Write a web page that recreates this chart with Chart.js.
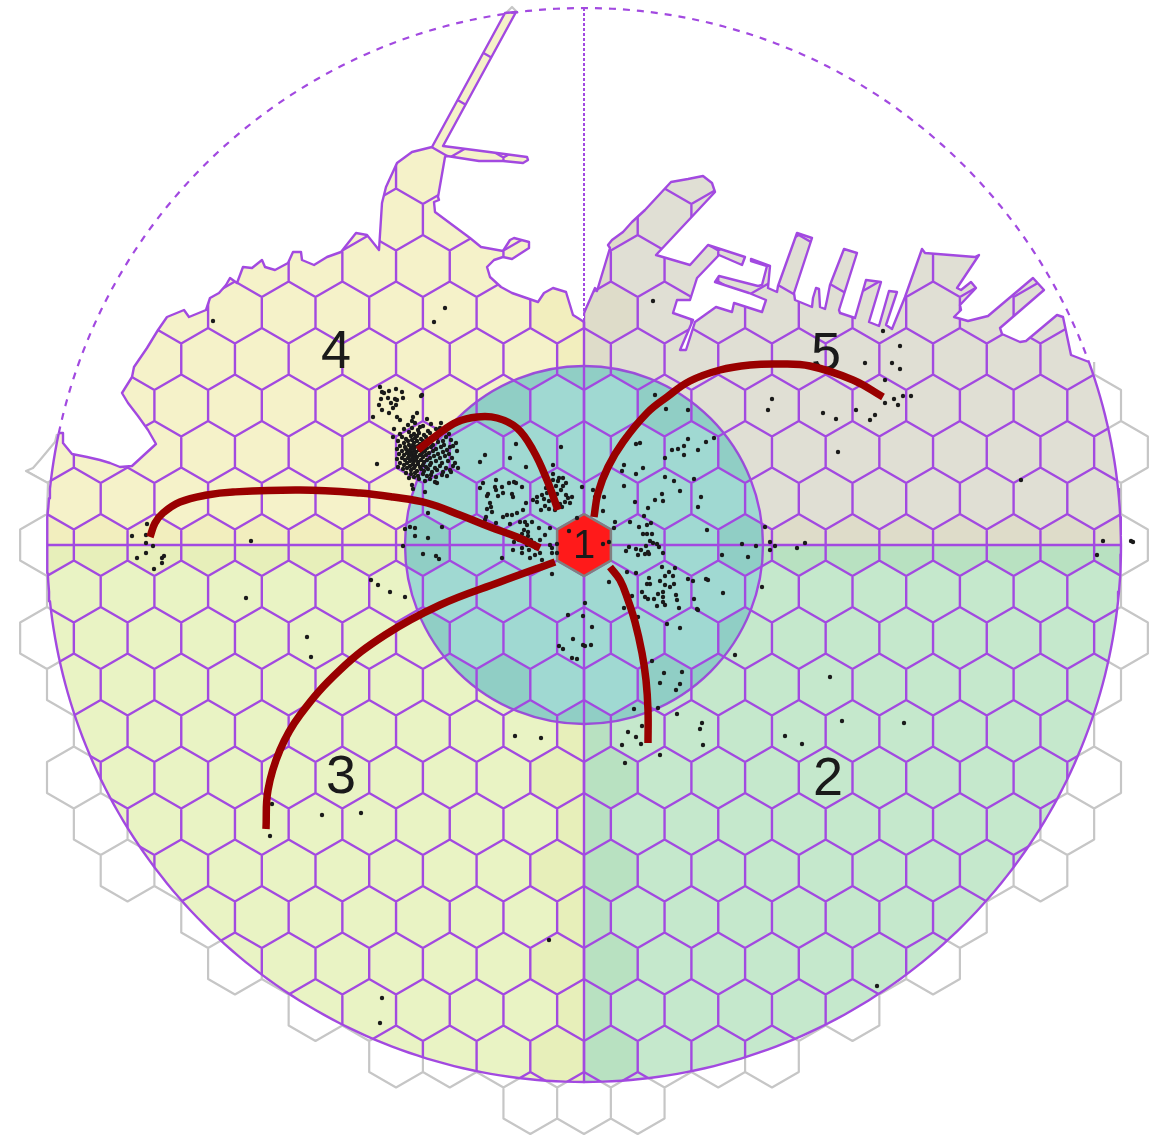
<!DOCTYPE html>
<html>
<head>
<meta charset="utf-8">
<title>Hex catchment map</title>
<style>
    html, body { margin: 0; padding: 0; background: #fff; overflow: hidden; }
    canvas { display: block; }
</style>
<script src="https://cdn.jsdelivr.net/npm/chart.js@4/dist/chart.umd.min.js"></script>
</head>
<body>
<canvas id="map" width="1164" height="1138"></canvas>
<script>
// ── Grid ───────────────────────────────────────────
const HUB = [584, 545];
const R_OUTER = 537;
const R_INNER = 179;
const HEX_W = 53.7;
const ROW_H = 46.5;
const HEX_SIDE = 31;
// how many cell widths each row reaches from the middle, index = rows away from hub
const rowReach = [10, 9.5, 10, 9.5, 9, 9.5, 9, 8.5, 7, 6.5, 5, 3.5, 1];

// cells cut by the inner circle [row, col]
const ringCells = [
    [0, -3], [0, 3], [-2, 3], [2, 3], [2, -3], [-3, 1.5], [-3, -1.5], [3, 1.5], [3, -1.5],
    [-3, 2.5], [3, 2.5], [-3, -2.5], [3, -2.5], [-4, 0], [-4, 1], [-4, -1], [4, 0], [4, 1], [4, -1]
];

// ── Coast ──────────────────────────────────────────
const coastWest = [
    [59, 433], [63, 433], [63, 443], [72, 454], [87, 457], [100, 460], [110, 463], [120, 467], [132, 466],
    [156, 444], [148, 430], [138, 416], [128, 403], [122, 393], [132, 377], [134, 367], [147, 348], [158, 330],
    [167, 317], [184, 310], [189, 317], [206, 310], [210, 298], [219, 293], [226, 285], [230, 278], [237, 283],
    [243, 267], [252, 268], [262, 260], [265, 267], [275, 270], [288, 263], [293, 252], [301, 252], [302, 260],
    [314, 265], [327, 257], [341, 252], [356, 233], [367, 235], [379, 250], [382, 203], [386, 187], [397, 163],
    [412, 152], [432, 147]
];
const coastPiers = [
    [505, 13], [516, 12], [443, 146], [497, 153], [527, 157], [528, 160], [523, 163], [503, 161], [490, 161],
    [479, 161], [447, 156], [445, 157], [438, 197], [439, 200], [434, 202], [435, 212], [470, 238], [481, 247],
    [503, 251], [510, 240], [514, 238], [529, 242], [529, 248], [512, 259], [503, 257], [494, 260], [487, 267],
    [490, 277], [501, 287], [512, 293], [538, 302], [544, 293], [553, 288], [566, 292], [573, 315], [581, 320], [584, 322]
];
const coastEast = [
    [584, 313], [595, 288], [597, 291], [610, 248], [608, 245], [612, 240], [623, 232], [632, 222], [645, 210],
    [671, 182], [688, 179], [703, 176], [712, 183], [715, 192], [656, 255], [690, 265], [708, 245], [745, 257],
    [742, 265], [719, 255], [697, 278], [690, 300], [677, 300], [673, 313], [693, 320], [680, 350], [686, 350],
    [695, 322], [716, 307], [732, 312], [734, 303], [762, 312], [766, 300], [749, 293], [715, 282], [719, 276],
    [758, 286], [762, 285], [767, 266], [751, 261], [751, 259], [770, 266], [768, 288], [777, 292], [778, 286],
    [797, 233], [812, 238], [794, 293], [795, 300], [812, 307], [813, 298], [816, 288], [819, 289], [820, 307],
    [825, 309], [827, 300], [830, 285], [844, 249], [857, 253], [839, 310], [840, 313], [855, 318], [866, 280],
    [881, 282], [869, 322], [879, 326], [889, 291], [897, 292], [886, 325], [892, 329], [905, 297], [922, 249],
    [925, 253], [975, 257], [979, 255], [957, 288], [961, 290], [971, 282], [976, 288], [960, 305], [961, 310],
    [954, 317], [968, 321], [988, 316], [1033, 278], [1044, 290], [1000, 328], [1002, 334], [1020, 342], [1026, 341],
    [1057, 315], [1063, 317], [1071, 355], [1089, 362]
];
const capeLine = [[57, 434], [55, 442], [40, 460], [33, 468], [26, 471], [48, 483], [47, 514]];
const pierTip = [[506, 13], [512, 7], [518, 13]];

// ── Incidents ──────────────────────────────────────
const dotsHarbourTop = [
    [380, 387], [382, 392], [384, 393], [389, 391], [396, 389], [402, 392], [403, 398], [422, 395], [381, 399],
    [379, 405], [388, 398], [391, 403], [395, 399], [397, 400], [396, 405], [393, 408], [382, 410], [389, 413],
    [397, 417], [400, 420], [373, 417], [394, 429], [393, 437], [417, 413], [413, 417]
];
const dotsHarbour = [
    [412, 421], [427, 419], [441, 423], [408, 425], [415, 423], [420, 427], [431, 424], [440, 428], [404, 429],
    [412, 428], [418, 430], [423, 426], [428, 431], [436, 429], [445, 431], [400, 434], [409, 432], [414, 434],
    [419, 433], [424, 435], [430, 433], [434, 436], [439, 434], [446, 437], [449, 434], [402, 437], [406, 439],
    [411, 436], [415, 438], [417, 436], [421, 439], [426, 437], [431, 440], [437, 438], [443, 441], [451, 440],
    [398, 441], [404, 443], [408, 441], [412, 440], [414, 443], [417, 441], [420, 444], [423, 441], [428, 443],
    [433, 445], [438, 442], [444, 445], [450, 447], [456, 443], [400, 446], [405, 447], [409, 445], [411, 448],
    [413, 445], [415, 447], [418, 446], [421, 448], [424, 445], [427, 448], [431, 447], [436, 449], [441, 447],
    [447, 450], [453, 446], [397, 449], [402, 451], [406, 449], [408, 452], [410, 450], [412, 453], [414, 450],
    [416, 452], [419, 450], [422, 453], [425, 451], [429, 453], [433, 451], [438, 454], [443, 452], [449, 454],
    [457, 451], [399, 454], [404, 455], [407, 453], [409, 456], [411, 454], [413, 457], [415, 455], [417, 457],
    [420, 455], [423, 457], [426, 455], [430, 458], [434, 456], [440, 458], [445, 456], [452, 458], [397, 459],
    [402, 458], [405, 460], [408, 458], [410, 461], [412, 459], [414, 461], [416, 459], [418, 462], [421, 460],
    [424, 462], [427, 460], [431, 463], [436, 461], [442, 463], [448, 461], [455, 463], [400, 463], [404, 465],
    [407, 463], [410, 466], [413, 464], [415, 466], [418, 464], [420, 467], [423, 465], [426, 467], [430, 465],
    [435, 468], [440, 466], [446, 468], [453, 466], [398, 467], [403, 469], [407, 468], [411, 470], [414, 468],
    [417, 471], [421, 469], [424, 471], [428, 469], [432, 472], [437, 470], [443, 472], [450, 470], [458, 468],
    [406, 473], [411, 474], [415, 473], [418, 476], [423, 474], [427, 476], [431, 475], [436, 477], [442, 475],
    [409, 478], [414, 477], [419, 479], [425, 481], [430, 479], [437, 483], [435, 482], [447, 476], [451, 472]
];
const dotsNearHubWest = [
    [496, 480], [509, 483], [514, 482], [516, 483], [522, 487], [483, 483], [480, 488], [495, 487], [496, 490],
    [502, 487], [498, 496], [488, 494], [487, 496], [503, 493], [512, 494], [513, 497], [490, 503], [491, 507],
    [487, 509], [492, 512], [486, 517], [485, 520], [496, 523], [503, 517], [507, 515], [512, 515], [517, 513],
    [523, 510], [526, 503], [533, 500], [537, 502], [525, 522], [520, 522], [510, 524],
    [547, 478], [553, 480], [558, 481], [556, 486], [552, 490], [547, 493], [542, 495], [537, 497], [544, 499],
    [549, 501], [552, 497], [557, 494], [561, 490], [563, 486], [566, 483], [555, 503], [560, 504], [545, 506],
    [541, 510], [549, 509], [555, 510], [562, 507], [568, 498], [570, 503], [559, 478], [563, 478], [553, 474],
    [566, 495], [550, 485], [546, 488], [572, 497], [565, 502],
    [527, 525], [532, 522], [524, 530], [528, 532], [522, 534], [516, 536], [519, 540], [524, 538], [528, 536],
    [531, 540], [534, 543], [527, 545], [522, 548], [529, 550], [536, 548], [540, 553], [514, 542], [513, 550],
    [522, 553], [539, 528], [540, 540], [545, 535], [550, 545], [552, 553], [550, 528], [542, 560], [530, 558],
    [552, 548], [535, 555], [557, 544], [557, 553], [552, 574], [569, 531], [577, 518], [502, 558]
];
const dotsInnerWest = [
    [410, 527], [415, 528], [405, 529], [415, 536], [428, 538], [442, 527], [403, 546], [423, 554], [436, 556],
    [439, 559], [428, 513], [377, 464], [480, 462], [485, 455], [510, 458], [526, 467], [516, 444], [553, 465],
    [425, 492], [412, 485], [413, 489], [421, 396], [561, 447]
];
const dotsInnerEast = [
    [655, 395], [666, 409], [688, 410], [636, 444], [640, 443], [688, 439], [684, 446], [678, 449], [672, 450],
    [698, 450], [706, 442], [714, 438], [684, 455], [665, 458], [624, 465], [622, 471], [643, 468], [636, 474],
    [665, 477], [674, 481], [694, 479], [624, 486], [680, 491], [662, 494], [655, 500], [663, 501], [701, 497],
    [698, 507], [635, 502], [648, 508], [582, 487], [593, 490], [604, 497], [595, 497], [603, 511], [644, 516],
    [615, 522], [614, 528], [630, 522], [639, 527], [647, 525], [651, 523], [643, 534], [647, 534], [652, 534],
    [650, 541], [653, 543], [657, 544], [659, 547], [646, 546], [648, 552], [645, 554], [649, 554], [663, 553],
    [641, 550], [636, 549], [629, 547], [626, 551], [638, 555], [707, 530], [742, 544], [756, 546], [748, 557],
    [722, 555], [765, 527], [770, 542], [770, 550], [603, 544], [609, 542], [609, 582], [627, 572], [636, 573]
];
const dotsSouthEastCluster = [
    [662, 567], [675, 568], [669, 572], [665, 576], [673, 576], [649, 578], [647, 584], [650, 584], [660, 581],
    [665, 585], [670, 587], [674, 584], [642, 592], [645, 597], [648, 599], [654, 599], [658, 594], [663, 592],
    [663, 597], [663, 602], [665, 605], [657, 606], [676, 595], [677, 600], [679, 608], [694, 599], [697, 609],
    [688, 579], [693, 581], [706, 579], [708, 580], [723, 593], [762, 587], [632, 596], [624, 608], [638, 617],
    [667, 624], [680, 628], [698, 610]
];
const dotsSouth = [
    [585, 603], [568, 615], [583, 616], [592, 627], [573, 639], [583, 645], [585, 646], [591, 645], [559, 646],
    [563, 649], [572, 658], [577, 659], [735, 655], [652, 661], [664, 673], [682, 672], [660, 683], [680, 684],
    [676, 690], [634, 709], [658, 708], [677, 714], [702, 723], [700, 729], [703, 745], [642, 726], [628, 732],
    [636, 737], [622, 745], [641, 744], [660, 755], [625, 763], [515, 736], [541, 738], [830, 677], [842, 721],
    [904, 723], [785, 736], [802, 744], [877, 986], [549, 940], [382, 998], [380, 1023], [322, 815], [361, 813],
    [272, 804], [270, 836]
];
const dotsWest = [
    [147, 524], [132, 536], [146, 535], [146, 543], [153, 546], [146, 553], [137, 558], [162, 558], [164, 556],
    [162, 563], [154, 569], [251, 541], [246, 598], [371, 580], [378, 585], [390, 592], [405, 597], [307, 637],
    [311, 657], [213, 321], [445, 308], [434, 322]
];
const dotsEast = [
    [653, 301], [883, 331], [900, 346], [865, 363], [892, 363], [900, 369], [885, 380], [772, 399], [768, 410],
    [823, 413], [836, 419], [856, 410], [875, 415], [870, 420], [885, 403], [894, 399], [898, 405], [903, 396],
    [911, 396], [838, 452], [1021, 480], [1103, 541], [1097, 555], [1131, 541], [1133, 542], [775, 546], [797, 548],
    [805, 543]
];

// ── Flows ──────────────────────────────────────────
const flowTo2 = [[610, 567], [620, 580], [628, 600], [635, 622], [642, 653], [646, 680], [648, 710], [648, 743]];
const flowTo3 = [[555, 562], [500, 582], [440, 605], [385, 635], [340, 670], [300, 715], [280, 750], [268, 790], [266, 829]];
const flowToWest = [
    [540, 548], [517, 537], [490, 527], [460, 515], [427, 503], [393, 497], [360, 493], [300, 490], [233, 492],
    [207, 495], [180, 502], [163, 513], [155, 523], [150, 537]
];
const flowTo4 = [[558, 510], [547, 480], [533, 450], [517, 428], [497, 418], [477, 417], [457, 422], [437, 435], [418, 450]];
const flowTo5 = [
    [594, 517], [598, 493], [608, 467], [623, 442], [647, 413], [667, 397], [690, 381], [720, 370], [750, 365],
    [779, 364], [810, 366], [853, 380], [883, 397]
];

// ── Labels ─────────────────────────────────────────
const labelTexts = ['1', '2', '3', '4', '5'];
const labelXs = [584, 828, 341, 336, 826];
const labelYs = [547, 780, 778, 353, 355];
const labelSizes = [40, 54, 54, 54, 54];

// ── Colours ────────────────────────────────────────
const PURPLE = '#a249e0';
const GREY = '#c6c6c6';
const FLOW = '#990000';
const DOT = '#1a1a1a';

// ── Helpers ────────────────────────────────────────
const toXY = pairs => pairs.map(p => p ? { x: p[0], y: p[1] } : { x: null, y: null });

function hexOutline(row, col) {
    const x = HUB[0] + col * HEX_W;
    const y = HUB[1] + row * ROW_H;
    const hw = HEX_W / 2, top = HEX_SIDE, sh = HEX_SIDE / 2;
    return [[x, y - top], [x + hw, y - sh], [x + hw, y + sh], [x, y + top], [x - hw, y + sh], [x - hw, y - sh], [x, y - top], null];
}

function allCells() {
    const cells = [];
    for (let row = -12; row <= 12; row++) {
        const reach = rowReach[Math.abs(row)];
        for (let col = -reach; col <= reach; col++) cells.push([row, col]);
    }
    return cells;
}

function arcPoints(fromDeg, toDeg) {
    const pts = [];
    for (let a = fromDeg; a <= toDeg; a += 1) {
        const t = a * Math.PI / 180;
        pts.push([HUB[0] + R_OUTER * Math.cos(t), HUB[1] + R_OUTER * Math.sin(t)]);
    }
    return pts;
}

const outlines = cells => cells.flatMap(c => hexOutline(c[0], c[1]));

// cells the x = hub line and the y = hub line run through or along
function axisCells() {
    const cells = [];
    for (const [row, col] of allCells()) {
        if (row === 0 || col === 0 || Math.abs(col) === 0.5) cells.push([row, col]);
    }
    return cells;
}

const landOutline = [
    ...capeLine.slice().reverse(), ...coastWest, ...coastPiers, ...coastEast,
    [1164, 362], [1164, 1138], [0, 1138], [0, 514]
];
const quadNW = [[0, 0], [584, 0], [584, 545], [0, 545]];
const quadNE = [[584, 0], [1164, 0], [1164, 545], [584, 545]];
const quadSE = [[584, 545], [1164, 545], [1164, 1138], [584, 1138]];
const quadSW = [[0, 545], [584, 545], [584, 1138], [0, 1138]];

// ── Plugin: polygon fills, clip regions, text ──────
const mapLayers = {
    id: 'mapLayers',
    beforeDatasetDraw(chart, args) {
        const ds = chart.data.datasets[args.index];
        if (!ds.clips && !ds.polyFill) return;
        const { ctx } = chart;
        const sx = chart.scales.x, sy = chart.scales.y;
        ctx.save();
        (ds.clips || []).forEach(name => {
            ctx.beginPath();
            if (name === 'outer' || name === 'inner') {
                const r = name === 'outer' ? R_OUTER : R_INNER;
                ctx.arc(sx.getPixelForValue(HUB[0]), sy.getPixelForValue(HUB[1]), r, 0, Math.PI * 2);
            } else {
                const shape = name === 'land' ? landOutline : quadSE;
                shape.forEach((p, i) => {
                    const px = sx.getPixelForValue(p[0]), py = sy.getPixelForValue(p[1]);
                    if (i) ctx.lineTo(px, py); else ctx.moveTo(px, py);
                });
                ctx.closePath();
            }
            ctx.clip();
        });
        if (ds.polyFill) {
            ctx.beginPath();
            let open = false;
            args.meta.data.forEach(el => {
                if (el.skip) { open = false; return; }
                if (open) ctx.lineTo(el.x, el.y); else ctx.moveTo(el.x, el.y);
                open = true;
            });
            ctx.fillStyle = ds.polyFill;
            ctx.fill();
        }
    },
    afterDatasetDraw(chart, args) {
        const ds = chart.data.datasets[args.index];
        const { ctx } = chart;
        if (ds.clips || ds.polyFill) ctx.restore();
        if (ds.textLabels) {
            ctx.save();
            ctx.fillStyle = '#1a1a1a';
            ctx.textAlign = 'center';
            ctx.textBaseline = 'middle';
            args.meta.data.forEach((el, i) => {
                ctx.font = labelSizes[i] + 'px "Liberation Sans", Arial, sans-serif';
                ctx.fillText(ds.textLabels[i], el.x, el.y);
            });
            ctx.restore();
        }
    }
};

// ── Layers, back to front ──────────────────────────
const area = (pts, colour, clips) => ({
    data: toXY(pts), polyFill: colour, clips, showLine: false, pointRadius: 0
});
const stroke = (pts, colour, width, extra) => Object.assign({
    data: toXY(pts), showLine: true, pointRadius: 0, borderColor: colour, borderWidth: width,
    borderJoinStyle: 'round', spanGaps: false, fill: false
}, extra);
const dots = pts => ({ data: toXY(pts), showLine: false, pointRadius: 2.2, pointBorderWidth: 0, pointBackgroundColor: DOT });
const flow = pts => stroke(pts, FLOW, 7.5, { tension: 0.4, borderCapStyle: 'butt' });

const layers = [
    stroke(outlines(allCells()), GREY, 2.2, { clips: ['land'] }),
    stroke(capeLine, GREY, 2.2),
    stroke(pierTip, GREY, 2.2),

    area(quadNW, '#f5f2c9', ['land', 'outer']),
    area(quadNE, '#e0dfd4', ['land', 'outer']),
    area(quadSW, '#e9f3c4', ['land', 'outer']),
    area(outlines(axisCells()), 'rgba(200,170,0,0.05)', ['land', 'outer']),
    area(quadSE, '#c5e8cc', ['land', 'outer']),
    area(outlines(axisCells()), 'rgba(40,150,70,0.08)', ['land', 'outer', 'se']),

    {
        data: [{ x: HUB[0], y: HUB[1] }], showLine: false, pointRadius: R_INNER, pointBorderWidth: 2.4,
        pointBorderColor: PURPLE, pointBackgroundColor: '#a0d9d2'
    },
    area(outlines(ringCells), 'rgba(60,150,130,0.16)', ['inner']),

    stroke(outlines(allCells()), PURPLE, 2.4, { clips: ['land', 'outer'] }),
    stroke(arcPoints(-20, 192), PURPLE, 2.4),
    stroke(arcPoints(192, 340), PURPLE, 2.2, { borderDash: [7, 7] }),
    stroke(coastWest.concat(coastPiers), PURPLE, 2.4),
    stroke(coastEast, PURPLE, 2.4),
    stroke([[HUB[0], 8], [HUB[0], 322]], PURPLE, 2, { borderDash: [3, 2] }),
    stroke([[HUB[0], 322], [HUB[0], 1082]], PURPLE, 2.4),
    stroke([[47, HUB[1]], [1120, HUB[1]]], PURPLE, 2.4),

    Object.assign(area(hexOutline(0, 0), '#ff1a1a'), { showLine: true, borderColor: '#808080', borderWidth: 2.5 }),

    dots(dotsHarbourTop), dots(dotsHarbour), dots(dotsNearHubWest), dots(dotsInnerWest), dots(dotsInnerEast),
    dots(dotsSouthEastCluster), dots(dotsSouth), dots(dotsWest), dots(dotsEast),

    {
        data: labelXs.map((x, i) => ({ x, y: labelYs[i] })), textLabels: labelTexts,
        showLine: false, pointRadius: 0
    },

    flow(flowTo2), flow(flowTo3), flow(flowToWest), flow(flowTo4), flow(flowTo5)
];

new Chart(document.getElementById('map'), {
    type: 'scatter',
    data: { datasets: layers.map((d, i) => Object.assign(d, { order: layers.length - i })) },
    options: {
        responsive: false,
        animation: false,
        events: [],
        layout: { padding: 0, autoPadding: false },
        plugins: { legend: { display: false }, tooltip: { enabled: false } },
        scales: {
            x: { type: 'linear', min: 0, max: 1164, display: false },
            y: { type: 'linear', min: 0, max: 1138, reverse: true, display: false }
        }
    },
    plugins: [mapLayers]
});
</script>
</body>
</html>
